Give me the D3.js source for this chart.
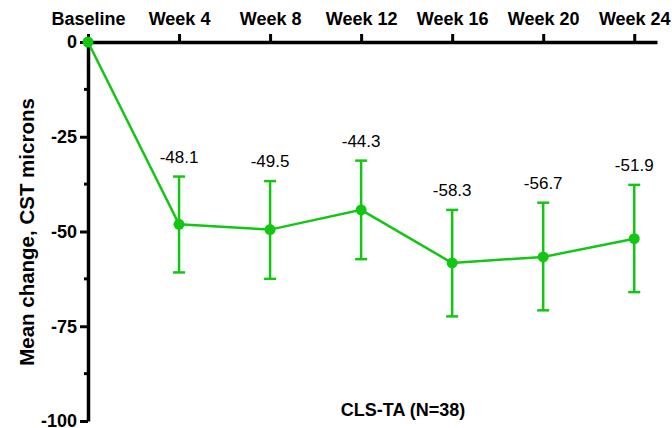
<!DOCTYPE html>
<html>
<head>
<meta charset="utf-8">
<script src="https://cdn.jsdelivr.net/npm/d3@7"></script>
<style>
  body { margin: 0; background: #fff; }
  text { font-family: "Liberation Sans", Arial, sans-serif; }
</style>
</head>
<body>
<svg id="chart" width="672" height="428"></svg>
<script>
// data
const visits = ["Baseline", "Week 4", "Week 8", "Week 12", "Week 16", "Week 20", "Week 24"];
const weeks = [0, 4, 8, 12, 16, 20, 24];
const meanChange = [0, -48.1, -49.5, -44.3, -58.3, -56.7, -51.9];
const errUpper = [0, -35.5, -36.7, -31.3, -44.3, -42.4, -37.7];
const errLower = [0, -60.8, -62.5, -57.3, -72.4, -70.8, -66.0];
const yTicks = [0, -25, -50, -75, -100];
const yMinorTicks = [-12.5, -37.5, -62.5, -87.5];

const green = "#14c614";
const svg = d3.select("svg#chart");

const x = d3.scaleLinear().domain([0, 25]).range([88, 657]);
const y = d3.scaleLinear().domain([0, -100]).range([42, 421]);

// x axis on top
const xAxis = svg.append("g").attr("transform", "translate(0," + y(0) + ")")
  .call(d3.axisTop(x).tickValues(weeks).tickSize(8).tickSizeOuter(0)
    .tickFormat((d, i) => visits[i]));
xAxis.select(".domain").attr("stroke-width", 3.5);
xAxis.selectAll(".tick line").attr("stroke-width", 3);
xAxis.selectAll(".tick text").attr("y", -17)
  .style("font-size", "18px").style("font-weight", "bold").attr("fill", "#000");

// y axis
const yAxis = svg.append("g").attr("transform", "translate(" + x(0) + ",0)")
  .call(d3.axisLeft(y).tickValues(yTicks).tickSize(8).tickSizeOuter(0).tickFormat(d => String(d)));
yAxis.select(".domain").attr("stroke-width", 3.5);
yAxis.selectAll(".tick line").attr("stroke-width", 3);
yAxis.selectAll(".tick text").attr("x", -11)
  .style("font-size", "18px").style("font-weight", "bold").attr("fill", "#000");

svg.append("g").selectAll("line").data(yMinorTicks).join("line")
  .attr("x1", x(0) - 4).attr("x2", x(0))
  .attr("y1", d => y(d)).attr("y2", d => y(d))
  .attr("stroke", "#000").attr("stroke-width", 3);

svg.append("text")
  .attr("transform", "translate(34,232) rotate(-90)")
  .attr("text-anchor", "middle")
  .style("font-size", "20.5px").style("font-weight", "bold")
  .text("Mean change, CST microns");

svg.append("text")
  .attr("x", 403).attr("y", 416)
  .attr("text-anchor", "middle")
  .style("font-size", "18px").style("font-weight", "bold")
  .text("CLS-TA (N=38)");

const pts = weeks.map((w, i) => ({ w: w, m: meanChange[i], hi: errUpper[i], lo: errLower[i] }));

// error bars
const eb = svg.append("g").attr("stroke", green).attr("stroke-width", 2.5);
pts.filter(d => d.w > 0).forEach(d => {
  eb.append("line").attr("x1", x(d.w)).attr("x2", x(d.w)).attr("y1", y(d.hi)).attr("y2", y(d.lo));
  eb.append("line").attr("x1", x(d.w) - 6).attr("x2", x(d.w) + 6).attr("y1", y(d.hi)).attr("y2", y(d.hi));
  eb.append("line").attr("x1", x(d.w) - 6).attr("x2", x(d.w) + 6).attr("y1", y(d.lo)).attr("y2", y(d.lo));
});

svg.append("path").datum(pts)
  .attr("fill", "none").attr("stroke", green).attr("stroke-width", 2.5)
  .attr("d", d3.line().x(d => x(d.w)).y(d => y(d.m)));

svg.append("g").selectAll("circle").data(pts).join("circle")
  .attr("cx", d => x(d.w)).attr("cy", d => y(d.m)).attr("r", 5.5)
  .attr("fill", green);

// value labels
svg.append("g").selectAll("text").data(pts.filter(d => d.w > 0)).join("text")
  .attr("x", d => x(d.w)).attr("y", d => y(d.hi) - 14)
  .attr("text-anchor", "middle")
  .style("font-size", "17px").attr("fill", "#000")
  .text(d => d.m.toFixed(1));
</script>
</body>
</html>
